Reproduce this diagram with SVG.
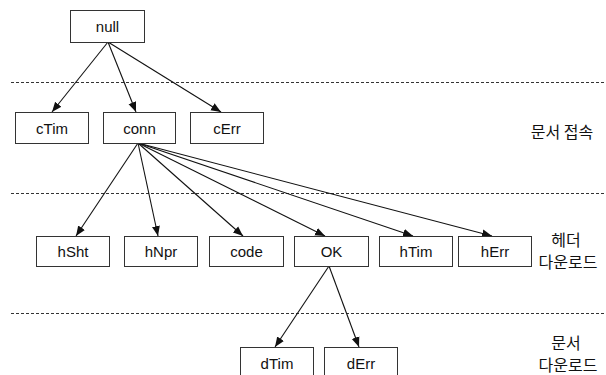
<svg xmlns="http://www.w3.org/2000/svg" width="606" height="375" viewBox="0 0 606 375">
<defs>
<style>
.box{fill:#fff;stroke:#333;stroke-width:1}
.lbl{font-family:"Liberation Sans",Arial,sans-serif;font-size:15px;fill:#111;text-anchor:middle}
.kr{font-family:"Noto Sans CJK KR","Liberation Sans",sans-serif;font-size:16px;fill:#111;text-anchor:middle}
.dash{stroke:#333;stroke-width:1;stroke-dasharray:3 2;fill:none}
.edge{stroke:#111;stroke-width:1.1;fill:none;marker-end:url(#ah)}
</style>
<marker id="ah" viewBox="0 0 10 10" refX="10" refY="5" markerWidth="10" markerHeight="10" markerUnits="userSpaceOnUse" orient="auto">
<path d="M0,1 L10,5 L0,9 z" fill="#111"/>
</marker>
</defs>
<rect width="606" height="375" fill="#fff"/>
<g id="separators">
<line class="dash" x1="11" y1="82.5" x2="606" y2="82.5"/>
<line class="dash" x1="11" y1="193.5" x2="606" y2="193.5"/>
<line class="dash" x1="11" y1="313.5" x2="606" y2="313.5"/>
</g>
<g id="connectors">
<line class="edge" x1="108" y1="42" x2="52" y2="112"/>
<line class="edge" x1="108" y1="42" x2="136" y2="112"/>
<line class="edge" x1="108" y1="42" x2="221" y2="112"/>
<line class="edge" x1="138" y1="143" x2="76" y2="236"/>
<line class="edge" x1="138" y1="143" x2="158" y2="236"/>
<line class="edge" x1="138" y1="143" x2="243" y2="236"/>
<line class="edge" x1="138" y1="143" x2="325" y2="236"/>
<line class="edge" x1="138" y1="143" x2="413" y2="236"/>
<line class="edge" x1="138" y1="143" x2="492" y2="236"/>
<line class="edge" x1="329" y1="266" x2="275" y2="347"/>
<line class="edge" x1="329" y1="266" x2="359" y2="347"/>
</g>
<g id="null"><rect class="box" x="70.5" y="10.5" width="74" height="32"/><text class="lbl" x="107.5" y="31.5">null</text></g>
<g id="cTim"><rect class="box" x="15.5" y="112.5" width="73" height="31"/><text class="lbl" x="52" y="134">cTim</text></g>
<g id="conn"><rect class="box" x="103.5" y="112.5" width="72" height="31"/><text class="lbl" x="139.5" y="134">conn</text></g>
<g id="cErr"><rect class="box" x="190.5" y="112.5" width="73" height="31"/><text class="lbl" x="227" y="134">cErr</text></g>
<g id="hSht"><rect class="box" x="36.5" y="236.5" width="73" height="30"/><text class="lbl" x="73" y="257">hSht</text></g>
<g id="hNpr"><rect class="box" x="124.5" y="236.5" width="73" height="30"/><text class="lbl" x="161" y="257">hNpr</text></g>
<g id="code"><rect class="box" x="209.5" y="236.5" width="74" height="30"/><text class="lbl" x="246.5" y="257">code</text></g>
<g id="OK"><rect class="box" x="294.5" y="236.5" width="74" height="30"/><text class="lbl" x="331.5" y="257">OK</text></g>
<g id="hTim"><rect class="box" x="379.5" y="236.5" width="73" height="30"/><text class="lbl" x="416" y="257">hTim</text></g>
<g id="hErr"><rect class="box" x="458.5" y="236.5" width="73" height="30"/><text class="lbl" x="495" y="257">hErr</text></g>
<g id="dTim"><rect class="box" x="240.5" y="347.5" width="73" height="31"/><text class="lbl" x="277" y="369">dTim</text></g>
<g id="dErr"><rect class="box" x="324.5" y="347.5" width="73" height="31"/><text class="lbl" x="361" y="369">dErr</text></g>
<g id="labels">
<text class="kr" x="562" y="138">문서 접속</text>
<text class="kr" x="566" y="246">헤더</text>
<text class="kr" x="568" y="268">다운로드</text>
<text class="kr" x="566" y="349">문서</text>
<text class="kr" x="568" y="371">다운로드</text>
</g>
</svg>
